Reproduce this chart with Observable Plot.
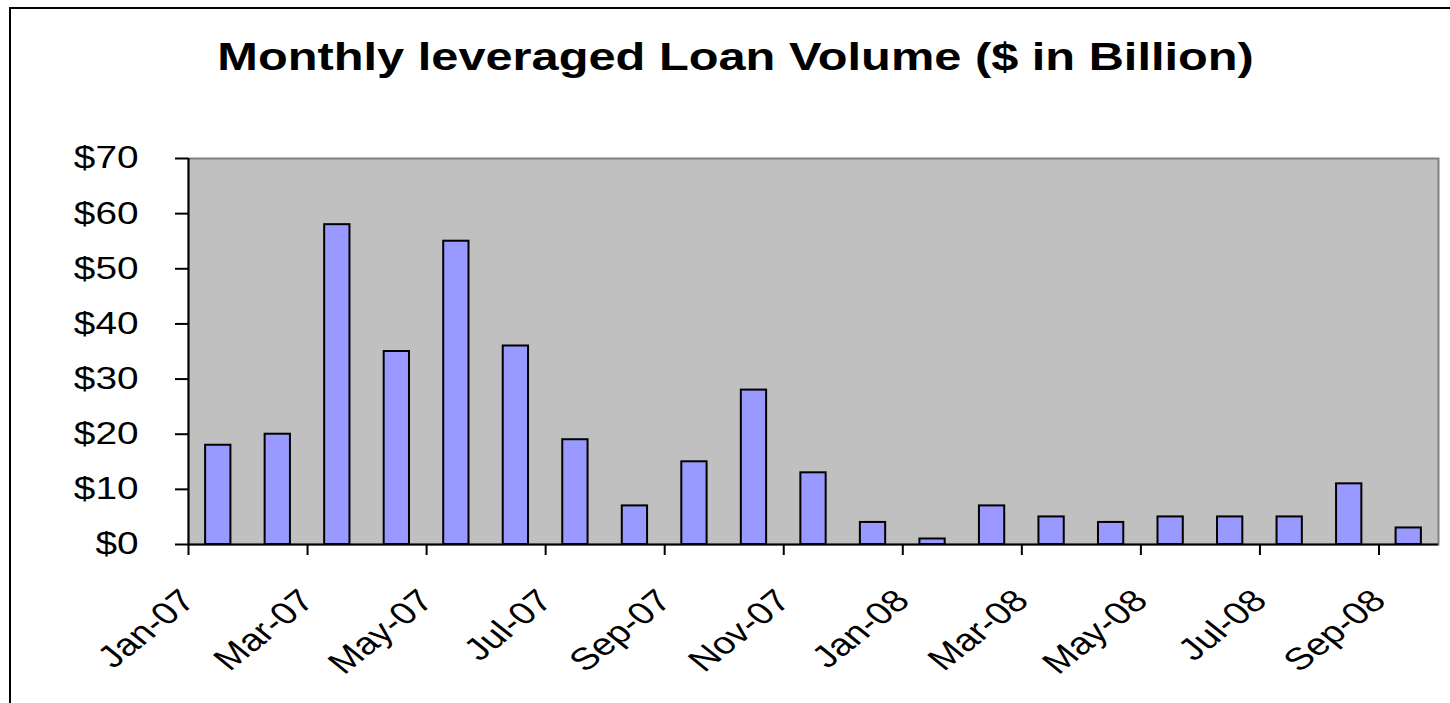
<!DOCTYPE html>
<html><head><meta charset="utf-8">
<script src="https://cdn.jsdelivr.net/npm/d3@7"></script>
<script src="https://cdn.jsdelivr.net/npm/@observablehq/plot@0.6"></script>
<style>
html,body{margin:0;padding:0;background:#fff;overflow:hidden;}
#wrap{position:relative;width:1450px;height:703px;overflow:hidden;font-family:"Liberation Sans",Arial,sans-serif;}
#border{position:absolute;left:9px;top:7px;width:2000px;height:2000px;border:2px solid #000;box-sizing:border-box;}
#title{position:absolute;left:0;top:37px;width:1472px;text-align:center;font:bold 39px/1 "Liberation Sans",Arial,sans-serif;color:#000;}
#title span{display:inline-block;transform:scaleX(1.25);}
#chart{position:absolute;left:0;top:0;}
</style></head>
<body><div id="wrap"><div id="border"></div><div id="title"><span>Monthly leveraged Loan Volume ($ in Billion)</span></div><div id="chart"></div></div>
<script>
const months = ["Jan-07","Feb-07","Mar-07","Apr-07","May-07","Jun-07","Jul-07","Aug-07","Sep-07","Oct-07","Nov-07","Dec-07",
                "Jan-08","Feb-08","Mar-08","Apr-08","May-08","Jun-08","Jul-08","Aug-08","Sep-08"];
const volumes = [18,20,58,35,55,36,19,7,15,28,13,4,1,7,5,4,5,5,5,11,3];
const xTickLabels = ["Jan-07","Mar-07","May-07","Jul-07","Sep-07","Nov-07","Jan-08","Mar-08","May-08","Jul-08","Sep-08"];
const yTicks = [0,10,20,30,40,50,60,70];

const data = months.map((m,i)=>({month:m, value:volumes[i]}));
const W=1450, H=703, mL=188, mR=12, mT=158, mB=159;
const step = (W-mL-mR)/months.length;

const plot = Plot.plot({
  width:W, height:H, marginLeft:mL, marginRight:mR, marginTop:mT, marginBottom:mB,
  style:{fontFamily:'"Liberation Sans", Arial, sans-serif', fontSize:"31px", background:"transparent", overflow:"visible", color:"#000"},
  x:{domain:months, paddingInner:0.575, paddingOuter:0.2875, round:false, label:null, axis:null},
  y:{domain:[0,70], label:null, axis:null},
  marks:[
    Plot.frame({fill:"#C0C0C0", stroke:"#808080", strokeWidth:2}),
    Plot.barY(data,{x:"month", y:"value", fill:"#9999FF", stroke:"#000", strokeWidth:2}),
    Plot.ruleY([0],{stroke:"#000", strokeWidth:2}),
    Plot.ruleX([months[0]],{dx:-step/2, stroke:"#000", strokeWidth:2}),
    Plot.axisY({ticks:yTicks, tickFormat:d=>"$"+d, tickSize:13, tickPadding:37, stroke:"#000", strokeWidth:2, fill:"#000", label:null}),
    Plot.axisX({ticks:xTickLabels, tickSize:11, tickRotate:-45, dx:-step/2, tickPadding:40, stroke:"#000", strokeWidth:2, fill:"#000", label:null})
  ]
});
document.getElementById("chart").appendChild(plot);

// mimic the horizontally stretched lettering of the reference
plot.querySelectorAll("text").forEach(t=>{
  const tr = t.getAttribute("transform");
  if (tr) {
    if (tr.includes("rotate(")) t.setAttribute("transform", tr.replace("rotate(", "scale(1.25,1) rotate("));
    else t.setAttribute("transform", tr + " scale(1.25,1)");
  } else {
    const x = +(t.getAttribute("x")||0), y = +(t.getAttribute("y")||0);
    t.removeAttribute("x"); t.removeAttribute("y");
    t.setAttribute("transform", `translate(${x},${y}) scale(1.25,1)`);
  }
});
</script>
</body></html>
